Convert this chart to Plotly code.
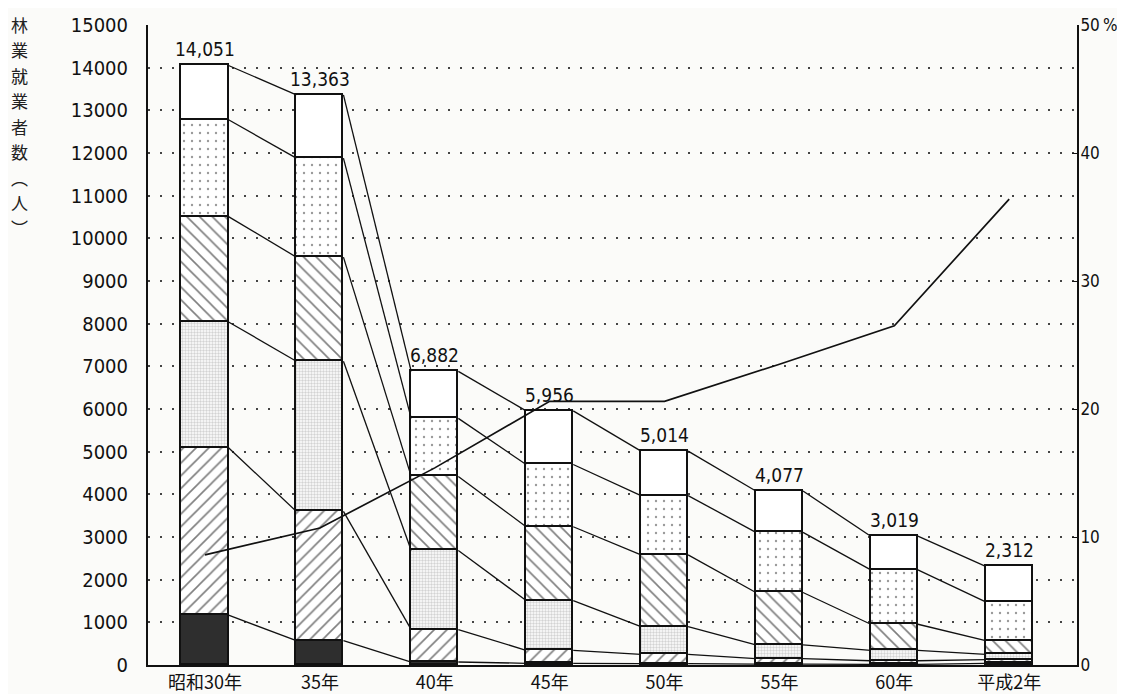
import plotly.graph_objects as go

# ---------------- data ----------------
categories = ["昭和30年", "35年", "40年", "45年", "50年", "55年", "60年", "平成2年"]
totals = [14051, 13363, 6882, 5956, 5014, 4077, 3019, 2312]

# stacked layers, bottom -> top
layer_solid = [1170, 570, 70, 40, 30, 20, 15, 40]
layer_fwd_hatch = [3920, 3030, 760, 305, 220, 130, 85, 85]
layer_fine_dots = [2950, 3520, 1855, 1165, 650, 320, 245, 125]
layer_back_hatch = [2470, 2440, 1735, 1730, 1680, 1230, 610, 320]
layer_sparse_dots = [2270, 2320, 1360, 1460, 1390, 1410, 1275, 910]
layer_top = [1271, 1483, 1102, 1256, 1044, 967, 789, 832]

# ratio line on the right axis (%)
pct_line = [8.6, 10.7, 15.4, 20.6, 20.6, 23.5, 26.5, 36.4]

left_ticks = list(range(0, 15001, 1000))
right_tickvals = [0, 10, 20, 30, 40, 50]
right_ticktext = ["0", "10", "20", "30", "40", "50\u2009%"]

y_title_chars = ["林", "業", "就", "業", "者", "数", "︵", "人", "︶"]

# ---------------- figure ----------------
NUM_FONT = "DejaVu Sans Condensed, Liberation Sans Narrow, DejaVu Sans, sans-serif"
CJK_FONT = "Noto Sans CJK JP, sans-serif"
BG = "#fbfbf9"
INK = "#111111"
W = 0.41
xs = list(range(len(categories)))

# the page body adds an 8px offset; size the figure so the plot area lands where the reference has it
OFF = 8
FIG_W, FIG_H = 1125 - OFF, 694 - OFF
PLOT_L, PLOT_R, PLOT_T, PLOT_B = 148 - OFF, 1077 - OFF, 25 - OFF, 665 - OFF
MARGIN_L, MARGIN_R, MARGIN_T, MARGIN_B = PLOT_L, FIG_W - PLOT_R, PLOT_T, FIG_H - PLOT_B
PLOT_H = PLOT_B - PLOT_T
PLOT_W = PLOT_R - PLOT_L

layers = [
    (layer_solid, dict(color="#2e2e2e")),
    (layer_fwd_hatch, dict(color="white", pattern=dict(shape="/", fgcolor="#000", size=9, solidity=0.18, fillmode="overlay"))),
    (layer_fine_dots, dict(color="white", pattern=dict(shape=".", fgcolor="#a8a8a8", size=3, solidity=0.5, fillmode="overlay"))),
    (layer_back_hatch, dict(color="white", pattern=dict(shape="\\", fgcolor="#000", size=9, solidity=0.18, fillmode="overlay"))),
    (layer_sparse_dots, dict(color="white", pattern=dict(shape=".", fgcolor="#333", size=8, solidity=0.07, fillmode="overlay"))),
    (layer_top, dict(color="white")),
]

fig = go.Figure()
for vals, mk in layers:
    mk = dict(mk)
    mk["line"] = dict(color=INK, width=1.8)
    fig.add_trace(go.Bar(x=xs, y=vals, width=W, marker=mk, showlegend=False, hoverinfo="skip"))

# connector lines between bars at every layer boundary
running = [0] * len(xs)
for vals, _ in layers:
    running = [r + v for r, v in zip(running, vals)]
    lx, ly = [], []
    for i in range(len(xs) - 1):
        lx += [xs[i] + W / 2, xs[i + 1] - W / 2, None]
        ly += [running[i], running[i + 1], None]
    fig.add_trace(go.Scatter(x=lx, y=ly, mode="lines", line=dict(color=INK, width=1.3),
                             showlegend=False, hoverinfo="skip"))

# ratio line
fig.add_trace(go.Scatter(x=xs, y=pct_line, yaxis="y2", mode="lines",
                         line=dict(color=INK, width=1.7), showlegend=False, hoverinfo="skip"))

fig.update_layout(
    width=FIG_W, height=FIG_H,
    margin=dict(l=MARGIN_L, r=MARGIN_R, t=MARGIN_T, b=MARGIN_B, autoexpand=False),
    paper_bgcolor=BG, plot_bgcolor=BG,
    barmode="stack", bargap=0,
    xaxis=dict(range=[-0.496, 7.59], tickvals=xs, ticktext=categories, showgrid=False, zeroline=False,
               showline=True, linecolor=INK, linewidth=2, ticks="", automargin=False,
               tickfont=dict(family=CJK_FONT, size=18, color=INK)),
    yaxis=dict(range=[0, 15000], tickvals=left_ticks, ticktext=[str(v) for v in left_ticks],
               showgrid=True, gridcolor="#444", gridwidth=1.6, griddash="2px,10px",
               zeroline=False, showline=True, linecolor=INK, linewidth=2, ticks="",
               ticklabelstandoff=14, automargin=False,
               tickfont=dict(family=NUM_FONT, size=20, color=INK)),
    yaxis2=dict(range=[0, 50], overlaying="y", side="right", tickvals=right_tickvals, ticktext=right_ticktext,
                showgrid=False, zeroline=False, showline=True, linecolor=INK, linewidth=2,
                ticks="inside", ticklen=5, tickcolor=INK, automargin=False, ticklabelstandoff=-2,
                tickfont=dict(family=NUM_FONT, size=17, color=INK)),
)

# total labels above each bar
for xi, t in zip(xs, totals):
    fig.add_annotation(x=xi, y=t, text=f"{t:,}", showarrow=False, xanchor="center", yanchor="bottom",
                       yshift=3, font=dict(family=NUM_FONT, size=19, color=INK))

# vertical (upright) axis title, one character per line (page pixel positions)
TITLE_X_PX, TITLE_TOP_PX, TITLE_PITCH_PX = 19, 24, 25.5
for k, ch in enumerate(y_title_chars):
    ypx = TITLE_TOP_PX + TITLE_PITCH_PX * k - OFF
    fig.add_annotation(
        text=ch, xref="paper", yref="paper",
        x=(TITLE_X_PX - OFF - PLOT_L) / PLOT_W, y=(PLOT_B - ypx) / PLOT_H,
        xanchor="center", yanchor="middle", showarrow=False,
        font=dict(family=CJK_FONT, size=17, color="#222"),
    )

fig.write_html("out.html")
